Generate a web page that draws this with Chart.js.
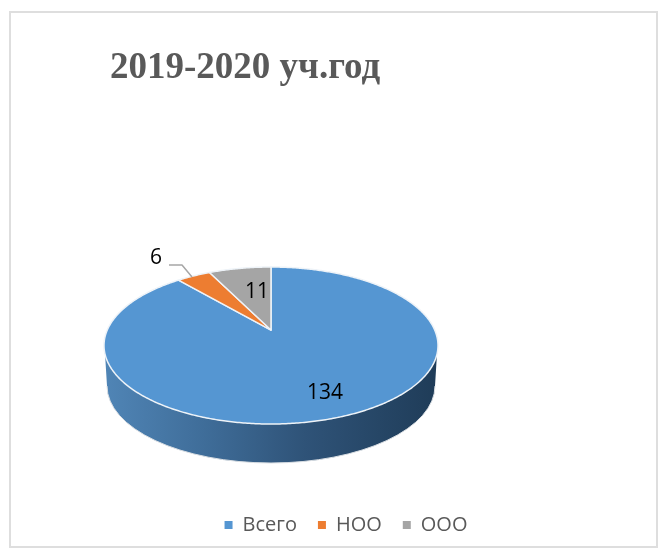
<!DOCTYPE html>
<html>
<head>
<meta charset="utf-8">
<style>
    html, body { margin: 0; padding: 0; background: #fff; }
    #frame { position: absolute; left: 9px; top: 11px; width: 649px; height: 537px; border: 2px solid #dedede; box-sizing: border-box; }
    #wrap { position: absolute; left: 0; top: 0; width: 667px; height: 559px; }
</style>
<script src="https://cdn.jsdelivr.net/npm/chart.js@4"></script>
</head>
<body>
<div id="frame"></div>
<div id="wrap"><canvas id="pie-chart" width="667" height="559"></canvas></div>
<script>
const categories = ['Всего', 'НОО', 'ООО'];
const values = [134, 6, 11];
const colors = ['#5596d2', '#ed7d31', '#a5a5a5'];
const chartTitle = '2019-2020 уч.год';

// Perspective pie: rim ellipse, wall depth and where the apex sits
const pie = { cx: 271, cy: 345.5, rx: 167, ry: 78.5, k: -0.197, wallCx: 271, wallCy: 386, wallRx: 164, wallRy: 77 };

function rimPoint(angle) {
    const ux = Math.cos(angle), uy = Math.sin(angle);
    const d = 1 + pie.k * uy;
    return {
        x: pie.cx + pie.rx * ux * Math.sqrt(1 - pie.k * pie.k) / d,
        y: pie.cy + pie.ry * (uy + pie.k) / d
    };
}

function drawWall(ctx) {
    const grad = ctx.createLinearGradient(pie.cx - pie.rx, 0, pie.cx + pie.rx, 0);
    grad.addColorStop(0, '#5085b6');
    grad.addColorStop(0.3, '#3f6d99');
    grad.addColorStop(0.6, '#2f5378');
    grad.addColorStop(1, '#1f3c58');

    ctx.beginPath();
    ctx.ellipse(pie.cx, pie.cy, pie.rx - 0.5, pie.ry, 0, Math.PI, 0, true);
    ctx.lineTo(pie.wallCx + pie.wallRx, pie.wallCy);
    ctx.ellipse(pie.wallCx, pie.wallCy, pie.wallRx, pie.wallRy, 0, 0, Math.PI, false);
    ctx.closePath();
    ctx.fillStyle = grad;
    ctx.fill();

    ctx.beginPath();
    ctx.ellipse(pie.wallCx, pie.wallCy, pie.wallRx, pie.wallRy, 0, 0, Math.PI, false);
    ctx.strokeStyle = '#d8dde2';
    ctx.lineWidth = 1;
    ctx.stroke();
}

function drawSlice(ctx, arc, color) {
    const apexY = pie.cy + pie.ry * pie.k;
    ctx.beginPath();
    ctx.moveTo(pie.cx, apexY);
    const steps = Math.ceil((arc.endAngle - arc.startAngle) / 0.01);
    for (let i = 0; i <= steps; i++) {
        const p = rimPoint(arc.startAngle + (arc.endAngle - arc.startAngle) * i / steps);
        ctx.lineTo(p.x, p.y);
    }
    ctx.closePath();
    ctx.fillStyle = color;
    ctx.fill();
    ctx.strokeStyle = '#eef3f8';
    ctx.lineWidth = 1.5;
    ctx.lineJoin = 'round';
    ctx.stroke();
}

function drawLabels(ctx) {
    // Leader line for the small slice
    ctx.beginPath();
    ctx.moveTo(169, 265);
    ctx.lineTo(182, 265);
    ctx.lineTo(192, 277);
    ctx.strokeStyle = '#a6a6a6';
    ctx.lineWidth = 1.5;
    ctx.stroke();

    ctx.fillStyle = '#000';
    ctx.font = '21px "Open Sans"';
    ctx.textAlign = 'center';
    ctx.textBaseline = 'middle';
    ctx.fillText(String(values[0]), 325, 393);
    ctx.fillText(String(values[1]), 156, 258);
    ctx.fillText(String(values[2]), 257, 292);
}

const pie3d = {
    id: 'pie3d',
    beforeDatasetsDraw(chart) {
        const ctx = chart.ctx;
        const arcs = chart.getDatasetMeta(0).data;
        ctx.save();
        drawWall(ctx);
        arcs.forEach((arc, i) => drawSlice(ctx, arc, colors[i]));
        drawLabels(ctx);
        ctx.restore();
        return false;
    }
};

new Chart(document.getElementById('pie-chart').getContext('2d'), {
    type: 'pie',
    data: {
        labels: categories,
        datasets: [{ data: values, backgroundColor: colors, borderWidth: 0 }]
    },
    options: {
        responsive: false,
        animation: false,
        layout: { padding: { left: 110, right: 85, top: 46, bottom: 14 } },
        plugins: {
            tooltip: { enabled: false },
            title: {
                display: true,
                text: chartTitle,
                align: 'start',
                color: '#595959',
                font: { family: '"Liberation Serif"', size: 37, weight: 'bold' },
                padding: 0
            },
            legend: {
                position: 'bottom',
                labels: {
                    color: '#595959',
                    font: { family: '"Open Sans"', size: 20 },
                    boxWidth: 8,
                    boxHeight: 8,
                    padding: 21
                }
            }
        }
    },
    plugins: [pie3d]
});
</script>
</body>
</html>
